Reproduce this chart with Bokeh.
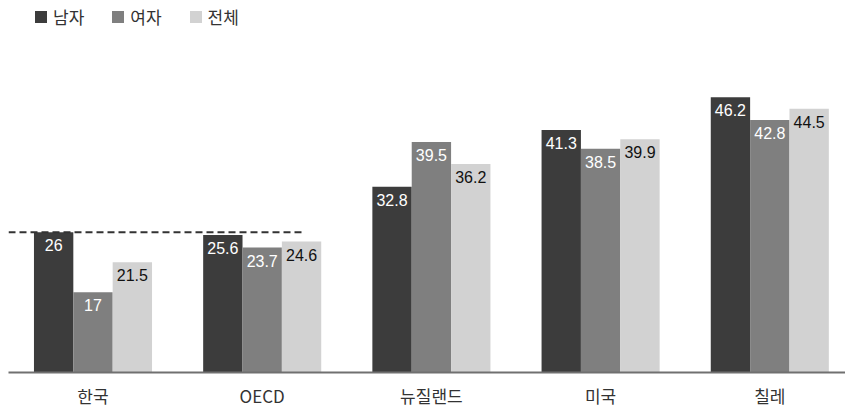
from bokeh.plotting import figure
from bokeh.models import Range1d, FixedTicker, Legend, LegendItem, ColumnDataSource
from bokeh.core.properties import value
from bokeh.embed import file_html
from bokeh.resources import INLINE

countries = ["한국", "OECD", "뉴질랜드", "미국", "칠레"]
series_names = ["남자", "여자", "전체"]
male = [26, 25.6, 32.8, 41.3, 46.2]
female = [17, 23.7, 39.5, 38.5, 42.8]
total = [21.5, 24.6, 36.2, 39.9, 44.5]
series_values = [male, female, total]

colors = ["#3c3c3c", "#7f7f7f", "#d2d2d2"]
label_colors = ["#ffffff", "#ffffff", "#111111"]

BAR_W = 0.2326
offsets = [-BAR_W, 0.0, BAR_W]
PX_PER_CAT = 169.2
PX_PER_UNIT = 6.68
FRAME_W = 837
FRAME_H = 372
x_start = -84.5 / PX_PER_CAT
x_end = x_start + FRAME_W / PX_PER_CAT
y_start = 5
y_end = y_start + FRAME_H / PX_PER_UNIT

p = figure(frame_width=FRAME_W, frame_height=FRAME_H,
           x_range=Range1d(x_start, x_end), y_range=Range1d(y_start, y_end),
           output_backend="svg", toolbar_location=None,
           y_axis_location=None, min_border=0,
           min_border_left=8, min_border_right=0, min_border_top=0, min_border_bottom=0)
p.outline_line_color = None
p.xgrid.visible = False
p.ygrid.visible = False
p.background_fill_color = "white"
p.border_fill_color = "white"

idx = list(range(len(countries)))
legend_items = []
for j, (name, vals) in enumerate(zip(series_names, series_values)):
    src = ColumnDataSource(dict(
        x=[i + offsets[j] for i in idx],
        top=vals,
        lab=[f"{v:g}" for v in vals],
    ))
    r = p.vbar(x="x", top="top", bottom=0, width=BAR_W, source=src,
               fill_color=colors[j], line_color=None)
    p.text(x="x", y="top", text="lab", source=src,
           text_align="center", text_baseline="top", y_offset=7,
           text_color=label_colors[j], text_font=value("Liberation Sans"),
           text_font_size="16px")
    legend_items.append(LegendItem(label=name, renderers=[r]))

# dashed reference line at Korea's male value
p.line(x=[x_start, 1 + BAR_W], y=[male[0], male[0]],
       line_color="#333333", line_width=2, line_dash="7 4")

ax = p.xaxis[0]
ax.ticker = FixedTicker(ticks=idx)
ax.major_label_overrides = {i: c for i, c in zip(idx, countries)}
ax.axis_line_color = "#707070"
ax.axis_line_width = 2
ax.major_tick_line_color = None
ax.minor_tick_line_color = None
ax.major_label_standoff = 4
ax.major_label_text_font = "Noto Sans CJK KR"
ax.major_label_text_font_size = "17px"
ax.major_label_text_color = "#333333"

legend = Legend(items=legend_items, orientation="horizontal",
                location=(25, 343), margin=0, padding=0, spacing=26,
                glyph_width=15, glyph_height=15, label_standoff=5,
                label_text_font="Noto Sans CJK KR", label_text_font_size="17px",
                label_text_color="#333333", border_line_color=None,
                background_fill_alpha=0)
p.add_layout(legend)

open("out.html", "w").write(file_html(p, INLINE))
